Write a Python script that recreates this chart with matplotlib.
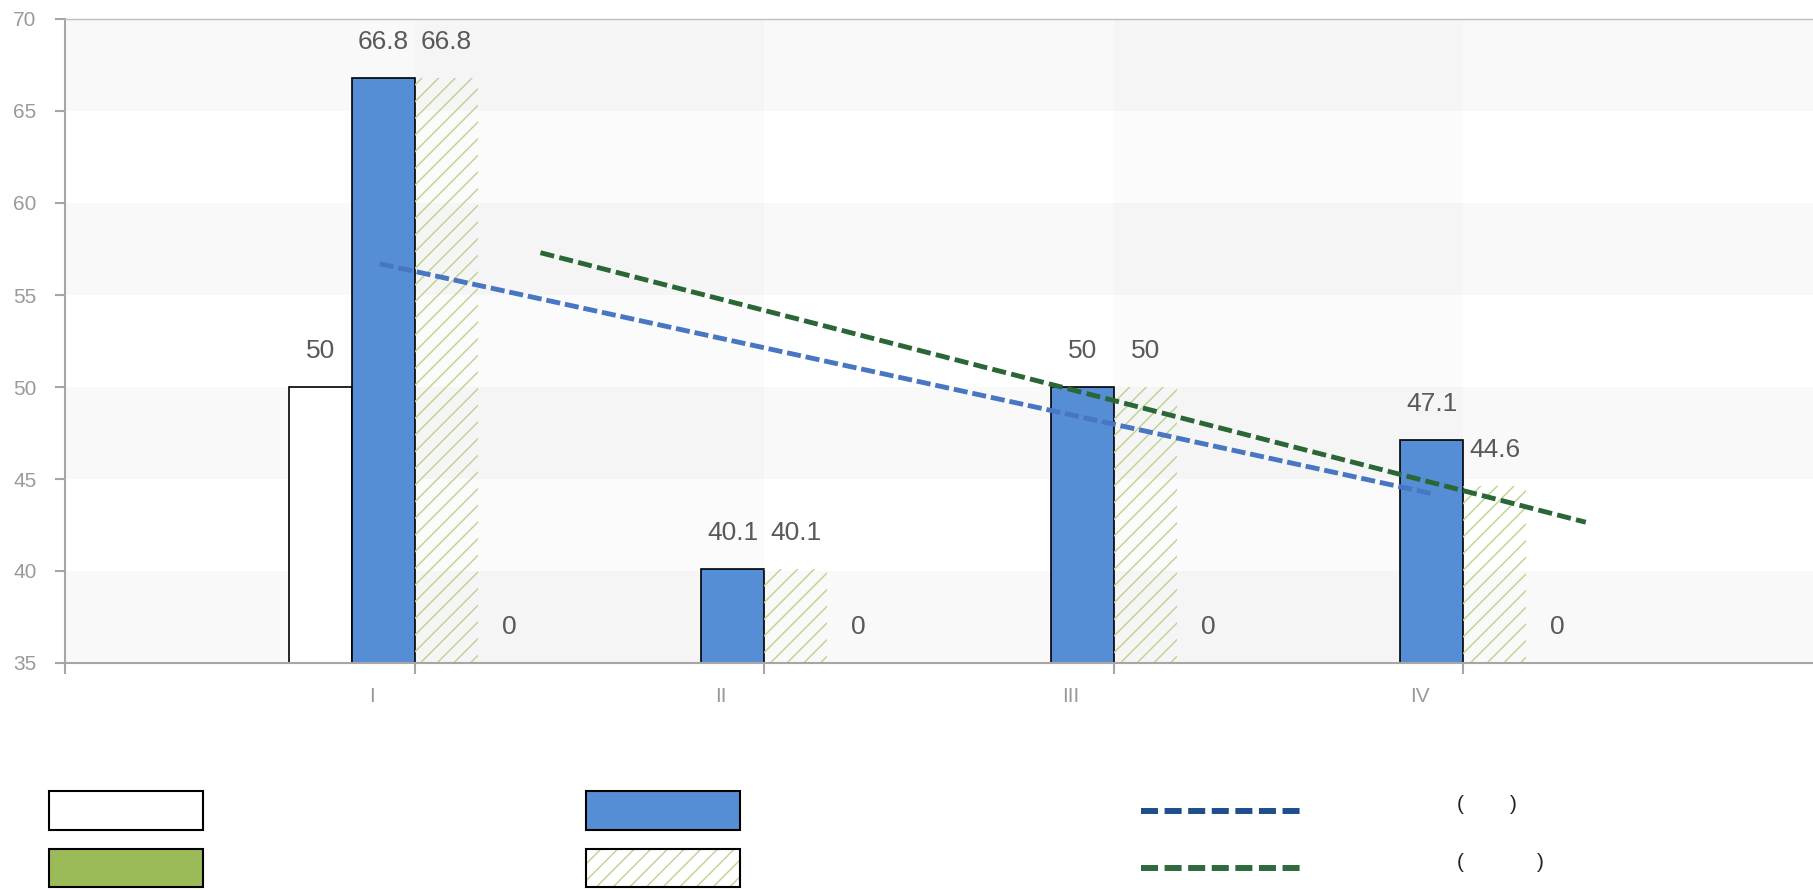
import numpy as np
import matplotlib
matplotlib.use("Agg")
from matplotlib import pyplot as plt
from matplotlib.patches import Rectangle
from matplotlib.lines import Line2D

categories = ["I", "II", "III", "IV"]
series_white = [50, np.nan, np.nan, np.nan]
series_blue = [66.8, 40.1, 50, 47.1]
series_hatch = [66.8, 40.1, 50, 44.6]
series_green = [0, 0, 0, 0]
# trend lines (x in category units)
trend_blue_x = [-0.1, 2.91]
trend_blue_y = [56.7, 44.2]
trend_green_x = [0.36, 3.35]
trend_green_y = [57.3, 42.65]
y_ticks = [35, 40, 45, 50, 55, 60, 65, 70]

W, H = 1813, 890
plt.rcParams["font.family"] = ["Liberation Sans", "DejaVu Sans"]
plt.rcParams["hatch.linewidth"] = 1.0

fig = plt.figure(figsize=(W / 100, H / 100), dpi=100)
ax = fig.add_axes([65 / W, 1 - 663 / H, 1 - 65 / W, (663 - 19) / H])

ymin, ymax = y_ticks[0], y_ticks[-1]
ax.set_xlim(-1, len(categories))
ax.set_ylim(ymin, ymax)

# background bands
for lo in y_ticks[:-1:2]:
    ax.axhspan(lo, lo + 5, color="#f9f9f9", lw=0, zorder=0)
for i in range(0, len(categories), 2):
    ax.axvspan(i, i + 1, color="black", alpha=0.017, lw=0, zorder=0)

x = np.arange(len(categories))
w = 0.18
ax.bar(x - 1.5 * w, series_white, w, color="white", edgecolor="black", linewidth=1.2, zorder=2)
ax.bar(x - 0.5 * w, series_blue, w, color="#558ed5", edgecolor="black", linewidth=1.2, zorder=2)
ax.bar(x + 0.5 * w, series_hatch, w, color="none", edgecolor="#bcd38f", hatch="//", linewidth=0, zorder=2)
ax.bar(x + 1.5 * w, series_green, w, color="#9bbb59", edgecolor="black", linewidth=1.2, zorder=2)

for offs, vals in [(-1.5, series_white), (-0.5, series_blue), (0.5, series_hatch), (1.5, series_green)]:
    for xi, v in zip(x, vals):
        if np.isnan(v):
            continue
        ax.text(xi + offs * w, max(v, ymin) + 1.95, f"{v:g}", ha="center", va="center",
                fontsize=19, color="#595959", zorder=4)

ax.plot(trend_blue_x, trend_blue_y, color="#4876c3", lw=3.5, linestyle=(0, (2.9, 1.0)), zorder=3)
ax.plot(trend_green_x, trend_green_y, color="#2b6636", lw=3.5, linestyle=(0, (2.9, 1.1)), zorder=3)

# axes styling
ax.spines["right"].set_visible(False)
for s in ["left", "bottom"]:
    ax.spines[s].set_color("#a6a6a6")
    ax.spines[s].set_linewidth(1.5)
ax.spines["top"].set_color("#c0c0c0")
ax.spines["top"].set_linewidth(1.0)

ax.set_yticks(y_ticks)
ax.tick_params(axis="y", length=7.5, width=1.5, color="#a6a6a6", pad=13,
               labelsize=15, labelcolor="#9a9a9a")
ax.set_xticks(np.arange(-1, len(categories)))
ax.set_xticklabels([])
ax.tick_params(axis="x", which="major", length=8, width=1.5, color="#a6a6a6")
ax.set_xticks(x - 0.123, minor=True)
ax.set_xticklabels(categories, minor=True)
ax.tick_params(axis="x", which="minor", length=0, pad=17, labelsize=15, labelcolor="#9a9a9a")


# legend, drawn by hand in pixel coordinates
def rect(x0, y0, x1, y1, **kw):
    fig.add_artist(Rectangle((x0 / W, 1 - y1 / H), (x1 - x0) / W, (y1 - y0) / H,
                             transform=fig.transFigure, **kw))


rect(49, 791, 203, 830, facecolor="white", edgecolor="black", lw=1.5)
rect(49, 849, 203, 887, facecolor="#9bbb59", edgecolor="black", lw=1.5)
rect(586, 791, 740, 830, facecolor="#558ed5", edgecolor="black", lw=1.5)
rect(586, 849, 740, 887, facecolor="white", edgecolor="#bcd38f", hatch="//", lw=0)
rect(586, 849, 740, 887, facecolor="none", edgecolor="black", lw=1.5)

for yy, col in [(811, "#1f4e8c"), (868, "#2f6a3e")]:
    fig.add_artist(Line2D([1141 / W, 1300 / W], [1 - yy / H] * 2, color=col, lw=4.3,
                          linestyle=(0, (2.85, 1.1)), transform=fig.transFigure))

for yy, xr in [(805, 1510), (863, 1537)]:
    fig.text(1457 / W, 1 - yy / H, "(", fontsize=15, color="#222222", va="center", ha="left")
    fig.text(xr / W, 1 - yy / H, ")", fontsize=15, color="#222222", va="center", ha="left")

fig.savefig("out.png", dpi=100)
